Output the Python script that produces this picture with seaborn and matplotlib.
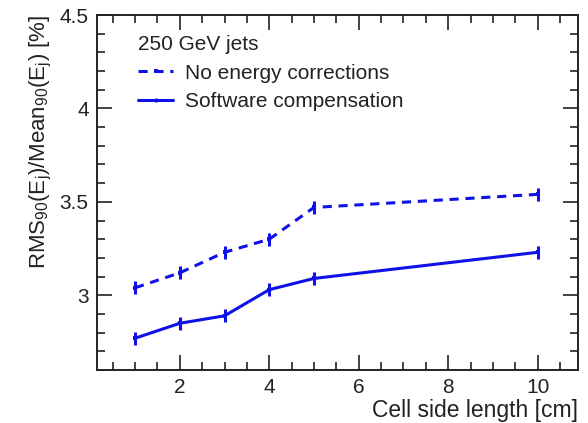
import numpy as np
import pandas as pd
import matplotlib
matplotlib.use("Agg")
import matplotlib.pyplot as plt
from matplotlib.ticker import MultipleLocator
from matplotlib.lines import Line2D
import seaborn as sns

# Cell side length [cm]
cell_size = [1, 2, 3, 4, 5, 10]
# Jet energy resolution RMS90/Mean90 [%]
res_no_corr = [3.04, 3.12, 3.23, 3.30, 3.47, 3.54]
res_sc = [2.77, 2.85, 2.89, 3.03, 3.09, 3.23]
err_no_corr = [0.035, 0.035, 0.035, 0.035, 0.035, 0.035]
err_sc = [0.035, 0.035, 0.035, 0.035, 0.035, 0.035]

labels = ["No energy corrections", "Software compensation"]

sns.set_theme(style="ticks")
plt.rcParams["font.family"] = ["Liberation Sans", "DejaVu Sans"]
plt.rcParams["mathtext.fontset"] = "custom"
plt.rcParams["mathtext.rm"] = "Liberation Sans"
plt.rcParams["mathtext.it"] = "Liberation Sans"

df = pd.DataFrame({
    "size": cell_size * 2,
    "res": res_no_corr + res_sc,
    "series": [labels[0]] * len(cell_size) + [labels[1]] * len(cell_size),
})

fig = plt.figure(figsize=(5.88, 4.23), dpi=100)
ax = fig.add_axes([97 / 588, 53 / 423, 481 / 588, 355 / 423])

blue = "#1010e8"
ink = "#222222"
sns.lineplot(data=df, x="size", y="res", style="series", style_order=labels,
             dashes={labels[0]: (3, 2.2), labels[1]: ""},
             color=blue, linewidth=2.2, marker="s", markersize=3.5,
             markeredgewidth=0, ax=ax, legend=False)
for y, e in [(res_no_corr, err_no_corr), (res_sc, err_sc)]:
    ax.errorbar(cell_size, y, yerr=e, fmt="none", ecolor=blue,
                elinewidth=2.2, capsize=0)

ax.set_xlim(0.15, 10.9)
ax.set_ylim(2.6, 4.5)
ax.xaxis.set_minor_locator(MultipleLocator(0.5))
ax.yaxis.set_minor_locator(MultipleLocator(0.1))
ax.set_yticks([3, 3.5, 4, 4.5])
ax.set_yticklabels(["3", "3.5", "4", "4.5"])
ax.set_xticks([2, 4, 6, 8, 10])
ax.tick_params(which="both", direction="in", top=True, right=True,
               colors=ink, labelcolor=ink, labelsize=15, width=1.2)
ax.tick_params(which="major", length=11, pad=6)
ax.tick_params(which="minor", length=6)
for s in ax.spines.values():
    s.set_linewidth(1.4)
    s.set_color(ink)

ax.set_xlabel("Cell side length [cm]", fontsize=16.5, color=ink, loc="right", labelpad=1)
ax.set_ylabel(r"RMS$_{90}$(E$_{\rm j}$)/Mean$_{90}$(E$_{\rm j}$) [%]", fontsize=16,
              color=ink, loc="top", labelpad=4)

handles = [
    Line2D([], [], color=blue, lw=2.2, dashes=(3, 2.2), marker="s", markersize=3.5, markeredgewidth=0),
    Line2D([], [], color=blue, lw=2.2, marker="o", markersize=3, markeredgewidth=0),
]
leg = ax.legend(handles, labels, title="250 GeV jets", loc="upper left",
                frameon=False, fontsize=15, title_fontsize=15,
                bbox_to_anchor=(0.055, 0.985), handlelength=1.7, handletextpad=0.55,
                labelspacing=0.47, borderpad=0.2)
leg._legend_box.align = "left"
leg.get_title().set_color(ink)
for t in leg.get_texts():
    t.set_color(ink)

fig.savefig("out.png", dpi=100)
